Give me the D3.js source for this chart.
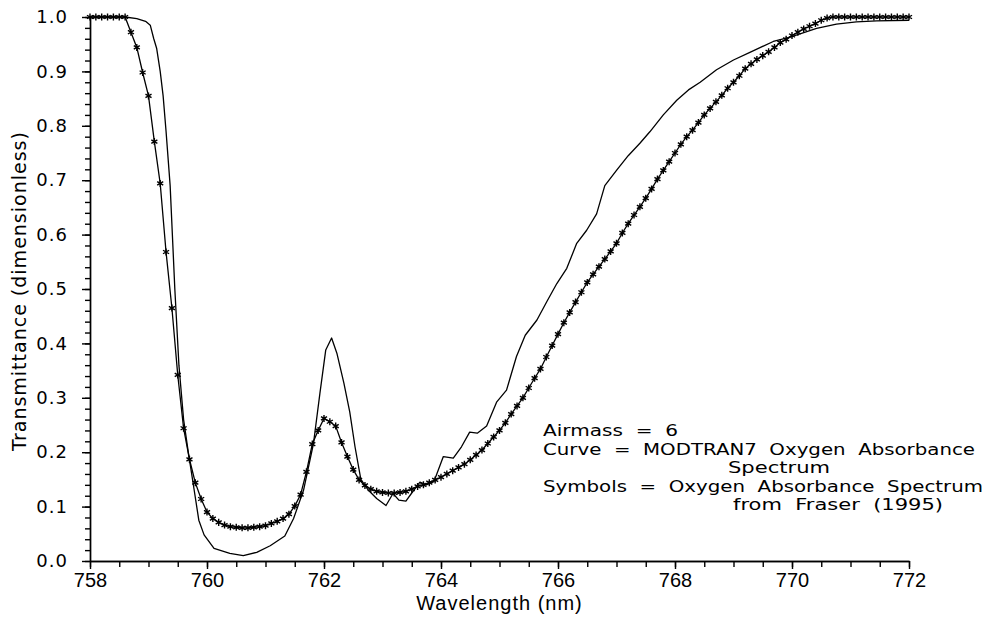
<!DOCTYPE html>
<html>
<head>
<meta charset="utf-8">
<script src="https://cdn.jsdelivr.net/npm/d3@7"></script>
<style>
  body { margin: 0; background: #fff; }
  svg { display: block; }
  .axis path, .axis line { stroke: #000; stroke-width: 1.4; }
  .axis text { fill: #000; }
</style>
</head>
<body>
<script>
// MODTRAN7 curve (solid line)
var curveWl = [758.0, 758.6, 758.8, 758.95, 759.03, 759.09, 759.14, 759.2, 759.25, 759.3, 759.37, 759.45,
  759.52, 759.6, 759.68, 759.78, 759.86, 759.95, 760.12, 760.39, 760.62, 760.85, 761.08, 761.33, 761.48,
  761.65, 761.82, 761.93, 762.03, 762.13, 762.22, 762.34, 762.44, 762.53, 762.63, 762.76, 762.9, 763.06,
  763.18, 763.28, 763.4, 763.5, 763.64, 763.75, 763.88, 764.04, 764.21, 764.35, 764.49, 764.62, 764.78,
  764.95, 765.12, 765.29, 765.44, 765.64, 765.81, 765.98, 766.15, 766.32, 766.49, 766.66, 766.8, 767.0,
  767.2, 767.4, 767.57, 767.8, 768.03, 768.23, 768.43, 768.71, 769.0, 769.28, 769.68, 769.97, 770.42,
  770.76, 771.1, 771.45, 772.0];
var curveT = [1.0, 1.0, 0.997, 0.992, 0.985, 0.960, 0.942, 0.900, 0.855, 0.790, 0.690, 0.500,
  0.360, 0.260, 0.200, 0.131, 0.075, 0.048, 0.023, 0.014, 0.010, 0.016, 0.028, 0.046, 0.078,
  0.130, 0.216, 0.308, 0.388, 0.410, 0.382, 0.327, 0.274, 0.210, 0.150, 0.130, 0.115, 0.102,
  0.124, 0.112, 0.110, 0.125, 0.145, 0.140, 0.146, 0.192, 0.189, 0.210, 0.237, 0.235, 0.248,
  0.292, 0.314, 0.376, 0.415, 0.443, 0.477, 0.510, 0.538, 0.584, 0.608, 0.638, 0.690, 0.718,
  0.745, 0.768, 0.789, 0.820, 0.847, 0.866, 0.880, 0.903, 0.921, 0.935, 0.955, 0.963, 0.979,
  0.987, 0.991, 0.993, 0.994];

// Fraser (1995) spectrum (symbols), sampled every 0.1 nm from 758.0 to 772.0
var fraserT = [1, 1, 1, 1, 1, 1, 1, 0.972, 0.944, 0.898,
  0.855, 0.771, 0.694, 0.568, 0.465, 0.342, 0.244, 0.187, 0.144, 0.114,
  0.090, 0.078, 0.071, 0.066, 0.063, 0.062, 0.061, 0.061, 0.062, 0.063,
  0.065, 0.069, 0.073, 0.078, 0.086, 0.101, 0.122, 0.164, 0.215, 0.240,
  0.262, 0.256, 0.248, 0.218, 0.192, 0.168, 0.149, 0.139, 0.132, 0.128,
  0.126, 0.125, 0.125, 0.126, 0.128, 0.132, 0.137, 0.140, 0.144, 0.149,
  0.154, 0.160, 0.166, 0.172, 0.178, 0.186, 0.195, 0.204, 0.216, 0.228,
  0.240, 0.254, 0.270, 0.285, 0.300, 0.318, 0.336, 0.353, 0.375, 0.396,
  0.417, 0.438, 0.457, 0.476, 0.494, 0.512, 0.527, 0.541, 0.555, 0.569,
  0.584, 0.603, 0.620, 0.636, 0.651, 0.667, 0.684, 0.702, 0.718, 0.734,
  0.750, 0.766, 0.780, 0.792, 0.806, 0.820, 0.832, 0.844, 0.856, 0.869,
  0.880, 0.892, 0.905, 0.914, 0.922, 0.929, 0.936, 0.944, 0.953, 0.959,
  0.966, 0.972, 0.978, 0.983, 0.988, 0.994, 0.998, 1, 1, 1,
  1, 1, 1, 1, 1, 1, 1, 1, 1, 1,
  1];
var fraserWl = fraserT.map(function(d, i){ return Math.round((758 + i * 0.1) * 10) / 10; });

var xTicks = [758, 760, 762, 764, 766, 768, 770, 772];
var yTicks = [0, 0.1, 0.2, 0.3, 0.4, 0.5, 0.6, 0.7, 0.8, 0.9, 1.0];
var notes = ["Airmass  =  6", "Curve  =  MODTRAN7  Oxygen  Absorbance", "Spectrum",
  "Symbols  =  Oxygen  Absorbance  Spectrum", "from  Fraser  (1995)"];

var width = 990, height = 619;
var margin = {left: 90, right: 81, top: 17, bottom: 58};

var x = d3.scaleLinear().domain([758, 772]).range([margin.left, width - margin.right]);
var y = d3.scaleLinear().domain([0, 1]).range([height - margin.bottom, margin.top]);

var svg = d3.select('body').append('svg').attr('width', width).attr('height', height);

// minor ticks
svg.append('g').attr('class', 'axis')
  .attr('transform', 'translate(0,' + y(0) + ')')
  .call(d3.axisBottom(x).tickValues(d3.range(758, 772.01, 0.5)).tickSize(6).tickSizeOuter(0).tickFormat(''));
svg.append('g').attr('class', 'axis')
  .attr('transform', 'translate(' + x(758) + ',0)')
  .call(d3.axisLeft(y).tickValues(d3.range(0, 1.001, 0.02)).tickSize(5).tickSizeOuter(0).tickFormat(''));

// major ticks with labels
svg.append('g').attr('class', 'axis x')
  .attr('transform', 'translate(0,' + y(0) + ')')
  .call(d3.axisBottom(x).tickValues(xTicks).tickSize(8).tickSizeOuter(0).tickPadding(4).tickFormat(d3.format('d')))
  .selectAll('text').style('font', '20px "Liberation Sans"');
svg.append('g').attr('class', 'axis y')
  .attr('transform', 'translate(' + x(758) + ',0)')
  .call(d3.axisLeft(y).tickValues(yTicks).tickSize(8).tickSizeOuter(0).tickPadding(14).tickFormat(d3.format('.1f')))
  .selectAll('text').style('font', '18px "DejaVu Sans"').style('letter-spacing', '1px');

svg.append('text').attr('x', (x(758) + x(772)) / 2).attr('y', 610)
  .attr('text-anchor', 'middle').style('font', '20px "Liberation Sans"').style('letter-spacing', '1px')
  .text('Wavelength (nm)');
svg.append('text').attr('transform', 'translate(26,' + ((y(0) + y(1)) / 2 + 2) + ') rotate(-90)')
  .attr('text-anchor', 'middle').style('font', '19px "DejaVu Sans"').style('letter-spacing', '1px')
  .text('Transmittance (dimensionless)');

var line = d3.line()
  .x(function(d){ return x(d[0]); })
  .y(function(d){ return y(d[1]); });

var curve = d3.zip(curveWl, curveT),
    fraser = d3.zip(fraserWl, fraserT);

svg.append('path').attr('d', line(curve))
  .attr('fill', 'none').attr('stroke', '#000').attr('stroke-width', 1.3).attr('stroke-linejoin', 'round');
svg.append('path').attr('d', line(fraser))
  .attr('fill', 'none').attr('stroke', '#000').attr('stroke-width', 1.3);

var star = d3.symbol().type(d3.symbolAsterisk).size(34);
svg.append('g').selectAll('path').data(fraser).enter().append('path')
  .attr('transform', function(d){ return 'translate(' + x(d[0]) + ',' + y(d[1]) + ')'; })
  .attr('d', star)
  .attr('fill', 'none').attr('stroke', '#000').attr('stroke-width', 1.4);

// annotation block
var noteX = [543, 543, 728, 543, 733],
    noteY = [436, 455, 473, 492, 510],
    noteW = [135, 432, 102, 440, 210];
svg.append('g').selectAll('text').data(notes).enter().append('text')
  .attr('x', function(d, i){ return noteX[i]; })
  .attr('y', function(d, i){ return noteY[i]; })
  .attr('textLength', function(d, i){ return noteW[i]; })
  .attr('lengthAdjust', 'spacingAndGlyphs')
  .style('font', '15.5px "DejaVu Sans"')
  .style('white-space', 'pre')
  .text(function(d){ return d; });
</script>
</body>
</html>
